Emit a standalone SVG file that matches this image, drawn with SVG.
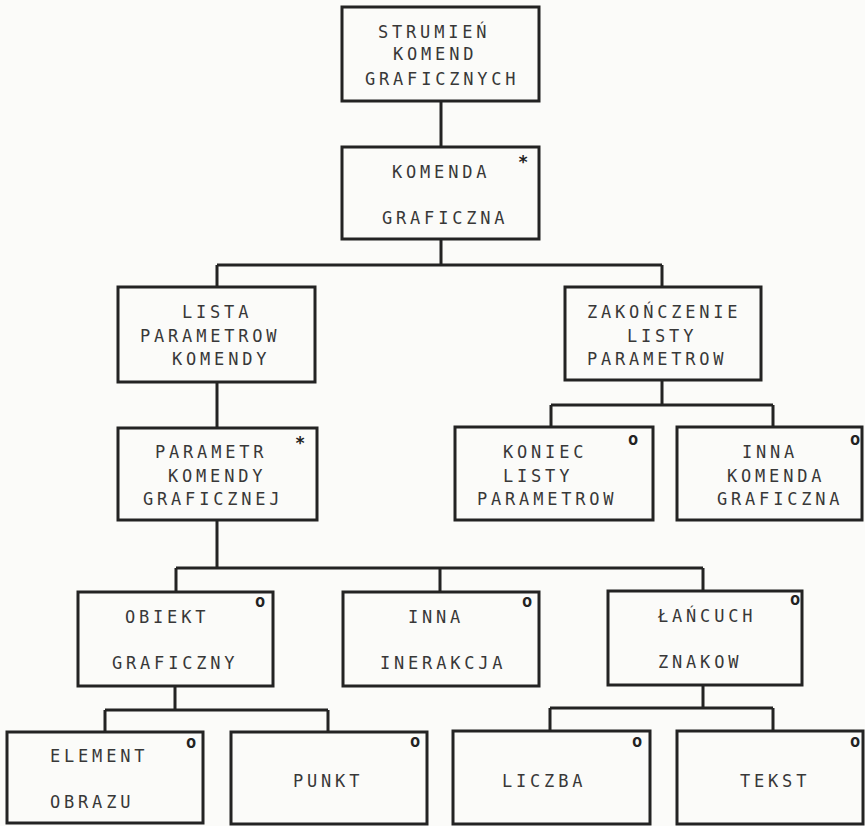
<svg xmlns="http://www.w3.org/2000/svg" width="865" height="826" viewBox="0 0 865 826">
<style>
.bg{fill:#fbfbf9}
.box{fill:none;stroke:#232323;stroke-width:3}
.ln{fill:none;stroke:#232323;stroke-width:3}
.t{font-family:"DejaVu Sans Mono","Liberation Mono",monospace;font-size:17px;letter-spacing:3.8px;fill:#383838}
.m{font-family:"DejaVu Sans Mono","Liberation Mono",monospace;font-size:17px;font-weight:bold;fill:#222}
</style>
<rect class="bg" x="0" y="0" width="865" height="826"/>
<g id="connectors">
<path class="ln" d="M441 101V147"/>
<path class="ln" d="M441 239V265M217 265H662M217 265V287M662 265V287"/>
<path class="ln" d="M217 382V428"/>
<path class="ln" d="M662 380V405M551 405H773M551 405V427M773 405V427"/>
<path class="ln" d="M217 520V568M176 568H703M176 568V592M440 568V592M703 568V591"/>
<path class="ln" d="M175 686V710M105 710H328M105 710V732M328 710V732"/>
<path class="ln" d="M703 685V708M550 708H773M550 708V731M773 708V731"/>
</g>
<g id="n1"><rect class="box" x="342" y="7" width="197" height="94"/>
<text class="t" x="378" y="38">STRUMIEŃ</text><text class="t" x="393" y="60">KOMEND</text><text class="t" x="365" y="85">GRAFICZNYCH</text></g>
<g id="n2"><rect class="box" x="342" y="147" width="197" height="92"/>
<text class="t" x="392" y="178">KOMENDA</text><text class="t" x="382" y="224">GRAFICZNA</text><text class="m" x="518" y="168">*</text></g>
<g id="n3"><rect class="box" x="118" y="287" width="197" height="95"/>
<text class="t" x="182" y="318">LISTA</text><text class="t" x="140" y="342">PARAMETROW</text><text class="t" x="172" y="365">KOMENDY</text></g>
<g id="n4"><rect class="box" x="565" y="287" width="196" height="93"/>
<text class="t" x="587" y="318">ZAKOŃCZENIE</text><text class="t" x="627" y="342">LISTY</text><text class="t" x="587" y="365">PARAMETROW</text></g>
<g id="n5"><rect class="box" x="118" y="428" width="199" height="92"/>
<text class="t" x="155" y="458">PARAMETR</text><text class="t" x="168" y="482">KOMENDY</text><text class="t" x="143" y="505">GRAFICZNEJ</text><text class="m" x="295" y="449">*</text></g>
<g id="n6"><rect class="box" x="455" y="427" width="198" height="93"/>
<text class="t" x="503" y="458">KONIEC</text><text class="t" x="503" y="482">LISTY</text><text class="t" x="477" y="505">PARAMETROW</text><text class="m" x="628" y="445">o</text></g>
<g id="n7"><rect class="box" x="677" y="427" width="185" height="93"/>
<text class="t" x="742" y="458">INNA</text><text class="t" x="727" y="482">KOMENDA</text><text class="t" x="717" y="505">GRAFICZNA</text><text class="m" x="850" y="445">o</text></g>
<g id="n8"><rect class="box" x="78" y="592" width="195" height="94"/>
<text class="t" x="125" y="623">OBIEKT</text><text class="t" x="112" y="669">GRAFICZNY</text><text class="m" x="255" y="607">o</text></g>
<g id="n9"><rect class="box" x="343" y="592" width="196" height="94"/>
<text class="t" x="408" y="623">INNA</text><text class="t" x="380" y="669">INERAKCJA</text><text class="m" x="522" y="607">o</text></g>
<g id="n10"><rect class="box" x="608" y="591" width="194" height="94"/>
<text class="t" x="658" y="622">ŁAŃCUCH</text><text class="t" x="658" y="668">ZNAKOW</text><text class="m" x="790" y="605">o</text></g>
<g id="n11"><rect class="box" x="7" y="732" width="196" height="91"/>
<text class="t" x="50" y="762">ELEMENT</text><text class="t" x="50" y="808">OBRAZU</text><text class="m" x="186" y="748">o</text></g>
<g id="n12"><rect class="box" x="231" y="732" width="196" height="92"/>
<text class="t" x="293" y="787">PUNKT</text><text class="m" x="410" y="747">o</text></g>
<g id="n13"><rect class="box" x="453" y="731" width="197" height="93"/>
<text class="t" x="502" y="787">LICZBA</text><text class="m" x="632" y="747">o</text></g>
<g id="n14"><rect class="box" x="677" y="731" width="186" height="93"/>
<text class="t" x="740" y="787">TEKST</text><text class="m" x="850" y="747">o</text></g>
</svg>
